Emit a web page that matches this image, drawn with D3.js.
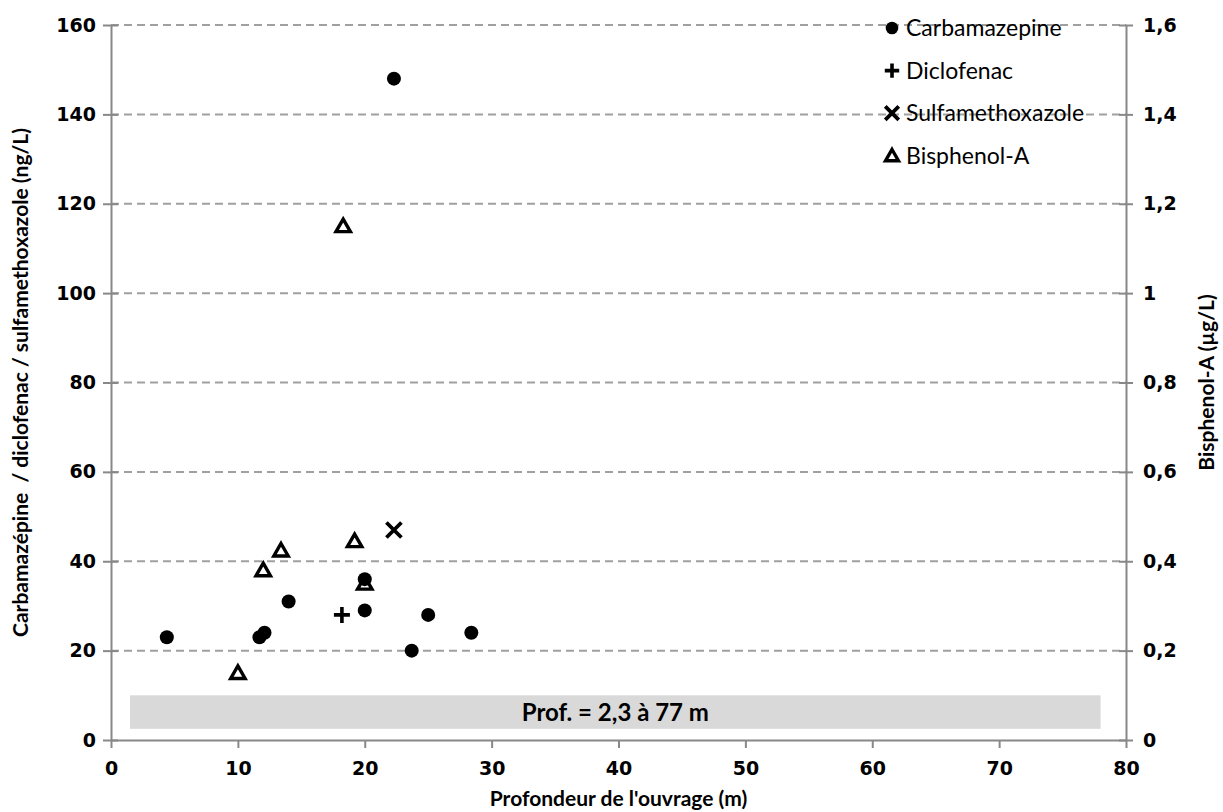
<!DOCTYPE html>
<html>
<head>
<meta charset="utf-8">
<script src="https://cdn.jsdelivr.net/npm/d3@7"></script>
<style>
  body { margin: 0; background: #fff; }
  .calibri { font-family: Lato, "Open Sans", sans-serif; }
  .verdana { font-family: "DejaVu Sans", Verdana, sans-serif; font-weight: bold; }
</style>
</head>
<body>
<div class="chart"></div>
<script>
// depth (m) and concentration
const carbaDepth = [4.4, 11.7, 12.1, 14.0, 20.0, 20.0, 22.3, 23.7, 25.0, 28.4];
const carbaValue = [23, 23, 24, 31, 29, 36, 148, 20, 28, 24];
const diclofDepth = [18.2];
const diclofValue = [28];
const sulfaDepth = [22.3];
const sulfaValue = [47];
const bpaDepth = [10.0, 12.0, 13.4, 18.3, 19.2, 20.0];
const bpaValue = [0.15, 0.38, 0.424, 1.15, 0.445, 0.35];   // µg/L (right axis)

const xTicks = [0, 10, 20, 30, 40, 50, 60, 70, 80];
const yTicks = [0, 20, 40, 60, 80, 100, 120, 140, 160];
const y2Ticks = [0, 0.2, 0.4, 0.6, 0.8, 1, 1.2, 1.4, 1.6];
const legendNames = ["Carbamazepine", "Diclofenac", "Sulfamethoxazole", "Bisphenol-A"];
const bandRange = [1.5, 78, 2.5, 10];   // x0, x1, y0, y1 in data units
const bandLabel = "Prof. = 2,3 à 77 m";

function init(){
    createChart(".chart");
}

function createChart(id){
    const W = 1223, H = 812;
    const margin = {top: 25, right: 97, bottom: 72, left: 111};
    const width = W - margin.left - margin.right,
          height = H - margin.top - margin.bottom;

    const svg = d3.select(id).append("svg")
        .attr("width", W).attr("height", H);
    const g = svg.append("g")
        .attr("transform", `translate(${margin.left}, ${margin.top})`);

    const x = d3.scaleLinear().domain([0, 80]).range([0, width]);
    const y = d3.scaleLinear().domain([0, 160]).range([height, 0]);
    const y2 = d3.scaleLinear().domain([0, 1.6]).range([height, 0]);

    // dashed gridlines
    g.selectAll(".grid").data(yTicks.slice(1)).join("line")
        .attr("x1", 0).attr("x2", width)
        .attr("y1", d => y(d)).attr("y2", d => y(d))
        .attr("stroke", "#a0a0a0").attr("stroke-width", 2)
        .attr("stroke-dasharray", "8,5");

    // grey band
    g.append("rect")
        .attr("x", x(bandRange[0])).attr("width", x(bandRange[1]) - x(bandRange[0]))
        .attr("y", y(bandRange[3])).attr("height", y(bandRange[2]) - y(bandRange[3]))
        .attr("fill", "#d9d9d9");
    g.append("text").attr("class", "calibri")
        .attr("x", (x(bandRange[0]) + x(bandRange[1])) / 2)
        .attr("y", (y(bandRange[2]) + y(bandRange[3])) / 2)
        .attr("dy", "0.36em").attr("text-anchor", "middle")
        .style("font-size", "24px").style("font-weight", "bold")
        .text(bandLabel);

    // axes
    const xAxis = g.append("g").attr("transform", `translate(0, ${height})`)
        .call(d3.axisBottom(x).tickValues(xTicks).tickSize(8).tickSizeOuter(0).tickPadding(14));
    const yAxis = g.append("g")
        .call(d3.axisLeft(y).tickValues(yTicks).tickSize(8).tickSizeOuter(0).tickPadding(7));
    yAxis.selectAll(".tick line").attr("x2", -8).attr("x1", 7);
    const y2Axis = g.append("g").attr("transform", `translate(${width}, 0)`)
        .call(d3.axisRight(y2).tickValues(y2Ticks).tickSize(7).tickSizeOuter(0).tickPadding(10)
            .tickFormat(d => String(d).replace(".", ",")));
    y2Axis.selectAll(".tick line").attr("x1", -7);
    [xAxis, yAxis, y2Axis].forEach(a => {
        a.selectAll("path, line").attr("stroke", "#888").attr("stroke-width", 2);
        a.selectAll("text").attr("class", "verdana")
            .style("font-size", "19px").attr("fill", "#000");
    });

    // axis titles
    svg.append("text").attr("class", "calibri")
        .attr("transform", `translate(28, ${margin.top + height / 2}) rotate(-90)`)
        .attr("text-anchor", "middle").style("font-size", "21px").style("font-weight", "bold")
        .style("white-space", "pre")
        .text("Carbamazépine  / diclofenac / sulfamethoxazole (ng/L)");
    svg.append("text").attr("class", "calibri")
        .attr("transform", `translate(1214, ${margin.top + height / 2}) rotate(-90)`)
        .attr("text-anchor", "middle").style("font-size", "21px").style("font-weight", "bold")
        .text("Bisphenol-A (µg/L)");
    svg.append("text").attr("class", "calibri")
        .attr("x", margin.left + width / 2).attr("y", 806)
        .attr("text-anchor", "middle").style("font-size", "21px").style("font-weight", "bold")
        .text("Profondeur de l'ouvrage (m)");

    // marker shapes (s = size factor)
    const markers = {
        circle: (sel, s) => sel.append("circle").attr("r", 7 * s).attr("fill", "#000"),
        plus: (sel, s) => sel.append("path").attr("d", `M${-8*s},0H${8*s}M0,${-8*s}V${8*s}`)
            .attr("stroke", "#000").attr("stroke-width", 3.6).attr("fill", "none"),
        cross: (sel, s) => sel.append("path")
            .attr("d", `M${-7.5*s},${-7.5*s}L${7.5*s},${7.5*s}M${-7.5*s},${7.5*s}L${7.5*s},${-7.5*s}`)
            .attr("stroke", "#000").attr("stroke-width", 3.8).attr("fill", "none"),
        tri: (sel, s) => sel.append("path")
            .attr("d", `M0,${-7*s}L${7.2*s},${5.5*s}L${-7.2*s},${5.5*s}Z`)
            .attr("stroke", "#000").attr("stroke-width", 3.4).attr("fill", "#fff")
    };

    function drawSeries(xs, vs, scale, kind){
        g.append("g").selectAll("g").data(d3.zip(xs, vs)).join("g")
            .attr("transform", d => `translate(${x(d[0])}, ${scale(d[1])})`)
            .each(function(){ markers[kind](d3.select(this), 1); });
    }
    drawSeries(bpaDepth, bpaValue, y2, "tri");
    drawSeries(carbaDepth, carbaValue, y, "circle");
    drawSeries(diclofDepth, diclofValue, y, "plus");
    drawSeries(sulfaDepth, sulfaValue, y, "cross");

    // legend
    const kinds = ["circle", "plus", "cross", "tri"];
    const leg = svg.append("g").attr("transform", "translate(892, 28)");
    legendNames.forEach((name, i) => {
        const row = leg.append("g").attr("transform", `translate(0, ${i * 42.6})`);
        markers[kinds[i]](row, 0.9);
        row.append("text").attr("class", "calibri")
            .attr("x", 14).attr("dy", "0.36em")
            .style("font-size", "23px").text(name);
    });
}

init();
</script>
</body>
</html>
